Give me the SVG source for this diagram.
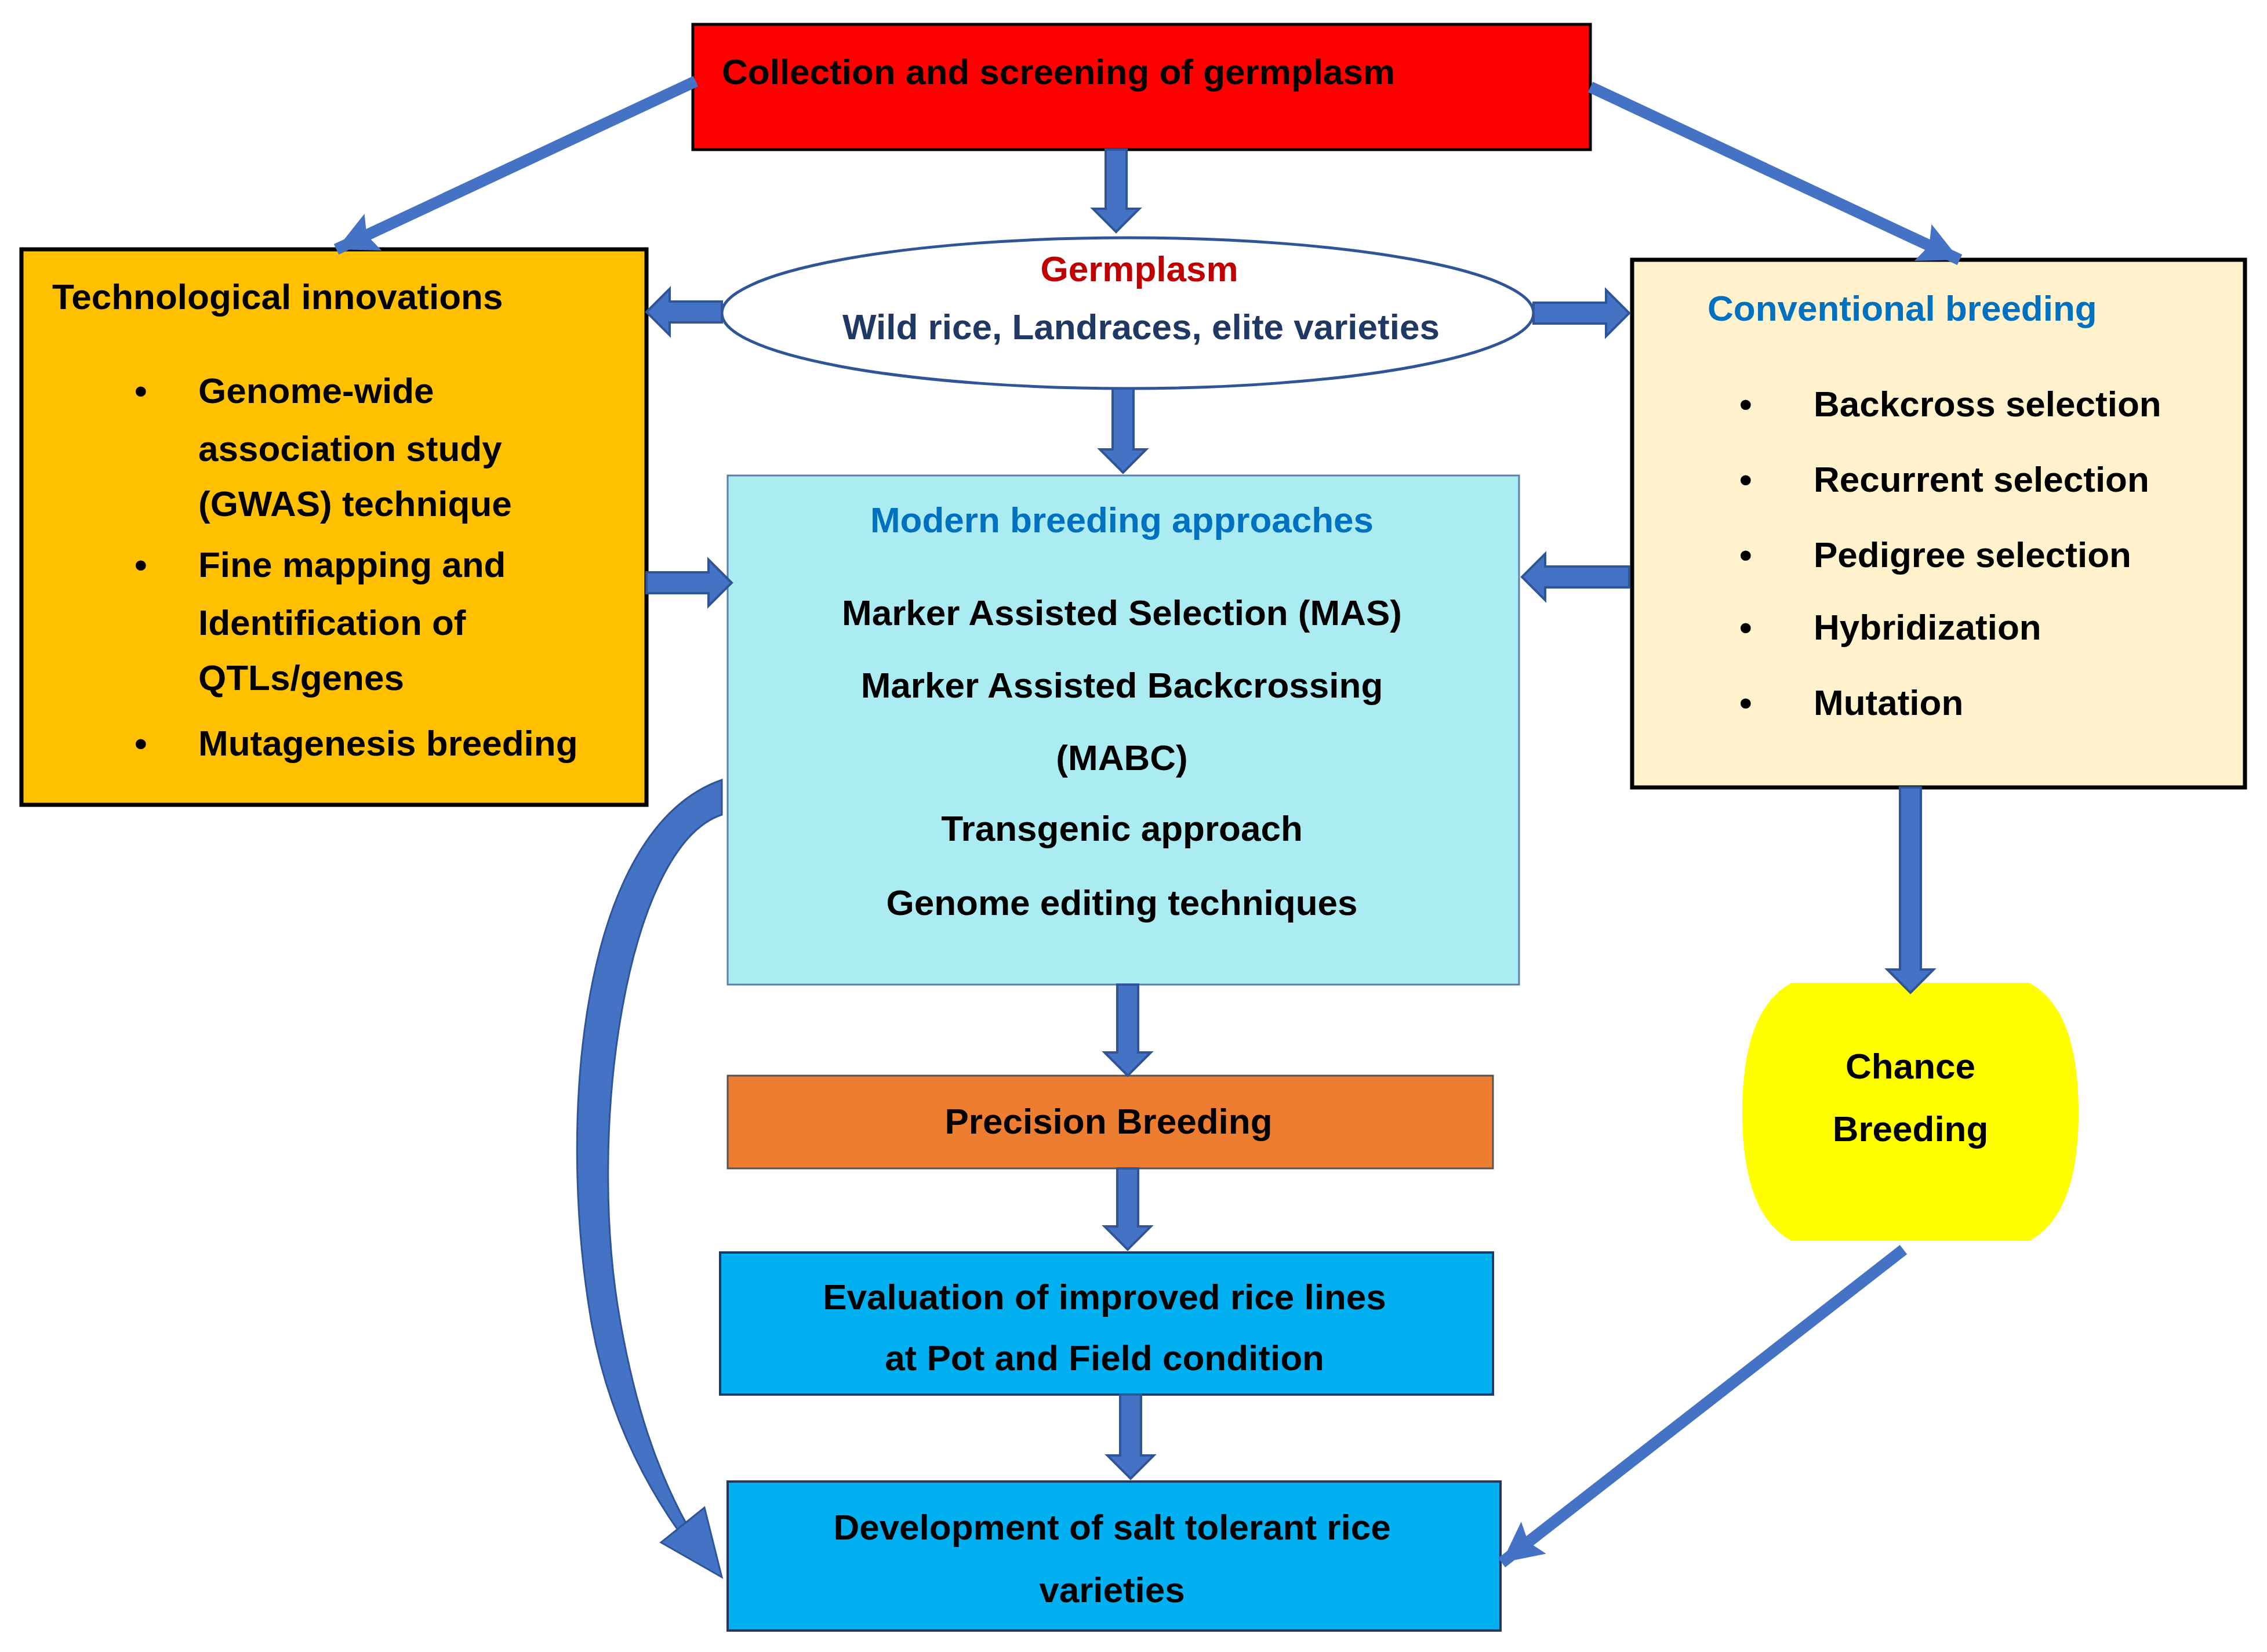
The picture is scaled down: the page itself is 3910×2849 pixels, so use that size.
<svg xmlns="http://www.w3.org/2000/svg" width="3910" height="2849" viewBox="0 0 3910 2849">
<style>
text{font-family:"Liberation Sans",Arial,sans-serif;font-weight:bold;font-size:62px;fill:#000}
.c{text-anchor:middle}
.blue{fill:#0070C0}
.arr{fill:#4472C4;stroke:#2F5597;stroke-width:4}
.ln{stroke:#4472C4;stroke-width:20;fill:none}
</style>
<defs>
<marker id="ah" markerUnits="userSpaceOnUse" markerWidth="80" markerHeight="80" refX="70" refY="35" orient="auto">
<path d="M0,0 L70,35 L0,70 L12,35 Z" fill="#4472C4"/>
</marker>
</defs>
<rect width="3910" height="2849" fill="#fff"/>

<g id="collection">
<rect x="1195" y="42" width="1548" height="216" fill="#FF0000" stroke="#000" stroke-width="5"/>
<text x="1245" y="145" font-size="66">Collection and screening of germplasm</text>
</g>

<g id="technological">
<rect x="37" y="430" width="1078" height="958" fill="#FFC000" stroke="#000" stroke-width="7"/>
<text x="90" y="533" font-size="66">Technological innovations</text>
<text x="232" y="695">•</text><text x="342" y="695">Genome-wide</text>
<text x="342" y="795">association study</text>
<text x="342" y="890">(GWAS) technique</text>
<text x="232" y="995">•</text><text x="342" y="995">Fine mapping and</text>
<text x="342" y="1095">Identification of</text>
<text x="342" y="1190">QTLs/genes</text>
<text x="232" y="1303">•</text><text x="342" y="1303">Mutagenesis breeding</text>
</g>

<g id="germplasm">
<ellipse cx="1945" cy="540" rx="700" ry="130" fill="#fff" stroke="#2F5597" stroke-width="5"/>
<text class="c" x="1965" y="485" fill="#C00000" style="fill:#C00000">Germplasm</text>
<text class="c" x="1968" y="585" style="fill:#1F3864">Wild rice, Landraces, elite varieties</text>
</g>

<g id="conventional">
<rect x="2815" y="448" width="1057" height="910" fill="#FFF2CC" stroke="#000" stroke-width="7"/>
<text class="blue" x="2945" y="553">Conventional breeding</text>
<text x="3000" y="718">•</text><text x="3128" y="718">Backcross selection</text>
<text x="3000" y="848">•</text><text x="3128" y="848">Recurrent selection</text>
<text x="3000" y="978">•</text><text x="3128" y="978">Pedigree selection</text>
<text x="3000" y="1103">•</text><text x="3128" y="1103">Hybridization</text>
<text x="3000" y="1233">•</text><text x="3128" y="1233">Mutation</text>
</g>

<g id="modern">
<rect x="1255" y="820" width="1365" height="878" fill="#ABEBF2" stroke="#5B7FA8" stroke-width="3"/>
<text class="c blue" x="1935" y="918">Modern breeding approaches</text>
<text class="c" x="1935" y="1078">Marker Assisted Selection (MAS)</text>
<text class="c" x="1935" y="1203">Marker Assisted Backcrossing</text>
<text class="c" x="1935" y="1328">(MABC)</text>
<text class="c" x="1935" y="1450">Transgenic approach</text>
<text class="c" x="1935" y="1578">Genome editing techniques</text>
</g>

<g id="precision">
<rect x="1255" y="1855" width="1320" height="160" fill="#ED7D31" stroke="#555" stroke-width="3"/>
<text class="c" x="1912" y="1955">Precision Breeding</text>
</g>

<g id="evaluation">
<rect x="1242" y="2160" width="1333" height="245" fill="#00B0F0" stroke="#1F3864" stroke-width="4"/>
<text class="c" x="1905" y="2258">Evaluation of improved rice lines</text>
<text class="c" x="1905" y="2363">at Pot and Field condition</text>
</g>

<g id="development">
<rect x="1255" y="2555" width="1333" height="257" fill="#00B0F0" stroke="#1F3864" stroke-width="4"/>
<text class="c" x="1918" y="2655">Development of salt tolerant rice</text>
<text class="c" x="1918" y="2763">varieties</text>
</g>

<g id="chance">
<path d="M3090,1695 L3500,1695 Q3585,1740 3585,1918 Q3585,2095 3500,2140 L3090,2140 Q3005,2095 3005,1918 Q3005,1740 3090,1695 Z" fill="#FFFF00"/>
<text class="c" x="3295" y="1860">Chance</text>
<text class="c" x="3295" y="1968">Breeding</text>
</g>

<g id="connectors">
<line class="ln" x1="1200" y1="140" x2="580" y2="430" marker-end="url(#ah)"/>
<line class="ln" x1="2743" y1="150" x2="3380" y2="448" marker-end="url(#ah)"/>
<line class="ln" x1="3283" y1="2155" x2="2590" y2="2695" marker-end="url(#ah)"/>
<polygon class="arr" points="1907,258 1943,258 1943,360 1965,360 1925,400 1885,360 1907,360"/>
<polygon class="arr" points="1919,670 1955,670 1955,775 1977,775 1937,815 1897,775 1919,775"/>
<polygon class="arr" points="1927,1698 1963,1698 1963,1815 1985,1815 1945,1855 1905,1815 1927,1815"/>
<polygon class="arr" points="1927,2015 1963,2015 1963,2115 1985,2115 1945,2155 1905,2115 1927,2115"/>
<polygon class="arr" points="1932,2405 1968,2405 1968,2510 1990,2510 1950,2550 1910,2510 1932,2510"/>
<polygon class="arr" points="3277,1358 3313,1358 3313,1672 3335,1672 3295,1712 3255,1672 3277,1672"/>
<polygon class="arr" points="1245,520 1245,556 1155,556 1155,578 1115,538 1155,498 1155,520"/>
<polygon class="arr" points="2645,522 2645,558 2770,558 2770,580 2810,540 2770,500 2770,522"/>
<polygon class="arr" points="1115,987 1115,1023 1222,1023 1222,1045 1262,1005 1222,965 1222,987"/>
<polygon class="arr" points="2810,977 2810,1013 2665,1013 2665,1035 2625,995 2665,955 2665,977"/>
<path d="M1245,1345 L1245,1405 C1080,1460 1010,1950 1070,2280 C1095,2420 1130,2530 1185,2630 L1170,2640 C1100,2540 1045,2420 1020,2280 C960,1930 1000,1430 1245,1345 Z" fill="#4472C4" stroke="#2F5597" stroke-width="3"/>
<polygon points="1245,2720 1140,2660 1215,2600" fill="#4472C4" stroke="#2F5597" stroke-width="3"/>
</g>
</svg>
